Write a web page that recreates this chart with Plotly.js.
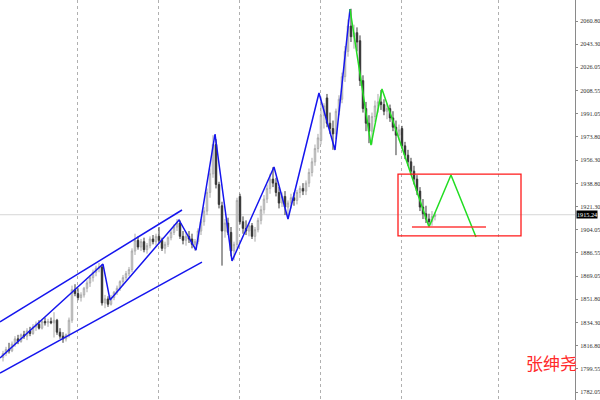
<!DOCTYPE html>
<html><head><meta charset="utf-8">
<script src="https://cdn.plot.ly/plotly-3.0.1.min.js"></script>
<style>html,body{margin:0;padding:0;background:#fff}#c{width:600px;height:400px}</style>
</head><body><div id="c"></div>
<script>
const barIdx = [];
for (let i = 0; i < 145; i++) barIdx.push(i);
const open = [1808,1811,1814,1813,1818,1822,1820,1825,1824,1828,1826,1831,1833,1830,1835,1834,1835,1834,1836,1827,1824,1822,1825,1836,1859,1856,1853,1855,1860,1864,
1868,1872,1875,1876,1849,1852,1848,1853,1857,1860,1865,1868,1871,1874,1888,1896,1891,1895,1889,1892,1897,1895,1899,1896,1890,1893,1898,1902,1906,1909,
1899,1896,1899,1897,1893,1895,1903,1910,1918,1932,1946,1968,1938,1922,1903,1909,1902,1888,1893,1929,1910,1905,1903,1907,1899,1904,1911,1919,1927,1935,
1942,1939,1932,1924,1929,1921,1924,1928,1926,1932,1935,1933,1939,1947,1955,1965,1971,1990,2003,1984,1980,1976,1993,2002,2019,2038,2057,2049,2052,2046,
2016,1995,1984,1978,1989,1997,2000,1998,1993,1995,1988,1981,1975,1980,1967,1960,1955,1948,1942,1933,1921,1916,1912,1910,1914];
const high = [1813,1816,1819,1820,1824,1825,1826,1828,1830,1831,1833,1835,1836,1837,1838,1837,1838,1842,1837,1830,1827,1826,1838,1862,1863,1860,1857,1861,1866,1870,
1874,1877,1879,1878,1855,1854,1855,1858,1862,1866,1870,1873,1876,1890,1901,1899,1897,1898,1894,1899,1900,1901,1906,1898,1895,1899,1904,1908,1912,1911,
1903,1902,1903,1901,1897,1905,1912,1921,1935,1950,1975,1972,1940,1925,1912,1913,1906,1895,1928,1931,1914,1911,1909,1909,1906,1913,1922,1930,1938,1946,
1951,1943,1936,1932,1933,1926,1931,1932,1934,1937,1939,1941,1950,1958,1968,1976,2004,1999,2006,1992,1986,1995,2005,2022,2042,2062,2070,2058,2056,2050,
2020,2000,1990,1992,2001,2006,2009,2002,1999,1998,1993,1986,1983,1982,1970,1964,1958,1952,1945,1936,1927,1922,1916,1918,1917];
const low = [1805,1809,1811,1812,1816,1818,1819,1822,1821,1824,1825,1828,1829,1829,1832,1831,1833,1823,1825,1822,1819,1820,1823,1834,1854,1851,1850,1853,1857,1861,
1865,1869,1872,1847,1845,1846,1847,1851,1855,1858,1862,1866,1869,1872,1885,1889,1888,1887,1886,1890,1893,1892,1894,1888,1886,1891,1896,1900,1903,1897,
1893,1892,1894,1890,1888,1893,1900,1907,1915,1928,1943,1935,1920,1877,1898,1900,1884,1881,1890,1908,1901,1900,1899,1897,1895,1902,1908,1916,1924,1931,
1936,1929,1920,1921,1915,1912,1920,1922,1923,1928,1930,1930,1936,1944,1952,1962,1968,1980,1981,1976,1964,1972,1990,1999,2015,2034,2045,2040,2038,2012,
1992,1978,1969,1968,1985,1992,1994,1990,1987,1985,1978,1960,1971,1965,1957,1952,1945,1938,1930,1918,1912,1909,1906,1907,1911];
const close = [1811,1814,1813,1818,1822,1820,1825,1824,1828,1826,1831,1833,1830,1835,1834,1835,1834,1836,1827,1824,1822,1825,1836,1859,1856,1853,1855,1860,1864,1868,
1872,1875,1876,1849,1852,1848,1853,1857,1860,1865,1868,1871,1874,1888,1896,1891,1895,1889,1892,1897,1895,1899,1896,1890,1893,1898,1902,1906,1909,1899,
1896,1899,1897,1893,1895,1903,1910,1918,1932,1946,1968,1938,1923,1903,1909,1902,1888,1893,1926,1910,1905,1903,1907,1899,1904,1911,1919,1927,1935,1942,
1939,1932,1924,1929,1921,1924,1928,1926,1932,1935,1933,1939,1947,1955,1965,1973,1990,1997,1984,1980,1976,1993,2002,2019,2038,2057,2049,2052,2045,2016,
1995,1984,1978,1989,1997,2000,1998,1993,1995,1988,1981,1975,1979,1967,1960,1955,1948,1942,1933,1921,1916,1912,1910,1914,1915.24];

const tickPrices = [2060.80,2043.30,2026.05,2008.55,1991.05,1973.80,1956.30,1938.80,1921.30,1904.05,1886.55,1869.05,1851.80,1834.30,1816.80,1799.55,1782.05];
const tickLabels = ["2060.80","2043.30","2026.05","2008.55","1991.05","1973.80","1956.30","1938.80","1921.30","1904.05","1886.55","1869.05","1851.80","1834.30","1816.80","1799.55","1782.05"];
const bidPrice = 1915.24;
const bidLabel = "1915.24";
const gridIdx = [24.67,51.67,78.67,106,133,165.33];

const blueZigX = [-1,33.33,35.67,58.67,64.33,70.67,76.33,90.33,95,105.33,110.67,115.67];
const blueZigY = [1807.6,1878.2,1851.2,1911.3,1888.7,1975.9,1880.5,1951.1,1912.0,2006.7,1963.9,2069.8];
const greenZigX = [115.67,122.67,126.33,142,149.33,157.67];
const greenZigY = [2069.8,1967.6,2009.7,1906.0,1945.1,1898.5];
const upperChX = [-1,59.67], upperChY = [1834.7,1918.8];
const lowerChX = [-1,66.33], lowerChY = [1796.3,1879.7];
const boxX = [131.67,172.67], boxY = [1899.3,1945.8];
const supportX = [136.33,161], supportY = 1906.0;
const authorText = "张绅尧";

const traces = [
  {type:'candlestick', x:barIdx, open:open, high:high, low:low, close:close,
   increasing:{line:{color:'#a8a8a8',width:1},fillcolor:'#ffffff'},
   decreasing:{line:{color:'#3a3a3a',width:1},fillcolor:'#000000'},
   whiskerwidth:0, hoverinfo:'skip'},
  {type:'scatter',mode:'lines',x:upperChX,y:upperChY,line:{color:'#1515ee',width:1.5}},
  {type:'scatter',mode:'lines',x:lowerChX,y:lowerChY,line:{color:'#1515ee',width:1.5}},
  {type:'scatter',mode:'lines',x:blueZigX,y:blueZigY,line:{color:'#1515ee',width:1.5}},
  {type:'scatter',mode:'lines',x:greenZigX,y:greenZigY,line:{color:'#22dd22',width:1.5}}
];

const layout = {
  width:600, height:400,
  margin:{l:0,r:25,t:0,b:0},
  paper_bgcolor:'#ffffff', plot_bgcolor:'#ffffff',
  showlegend:false, hovermode:false,
  xaxis:{range:[-1,190.67], rangeslider:{visible:false}, showticklabels:false, ticks:'',
         tickvals:gridIdx, showgrid:true, gridcolor:'#b0b0b0', griddash:'dot', gridwidth:1,
         zeroline:false, showline:false, fixedrange:true},
  yaxis:{range:[1776.04,2076.58], side:'right', tickvals:tickPrices, ticktext:tickLabels,
         showgrid:false, zeroline:false, showline:true, linecolor:'#8a8a8a', linewidth:1,
         ticks:'outside', ticklen:2, tickcolor:'#8a8a8a', ticklabelstandoff:1,
         tickfont:{family:'Liberation Serif, DejaVu Serif, serif', size:6.2, color:'#333333'},
         fixedrange:true},
  shapes:[
    {type:'line', xref:'paper', x0:0, x1:1, yref:'y', y0:bidPrice, y1:bidPrice, line:{color:'#d6d6d6',width:1}, layer:'below'},
    {type:'rect', xref:'x', yref:'y', x0:boxX[0], x1:boxX[1], y0:boxY[0], y1:boxY[1], line:{color:'#ff1a1a',width:1.3}},
    {type:'line', xref:'x', yref:'y', x0:supportX[0], x1:supportX[1], y0:supportY, y1:supportY, line:{color:'rgba(255,60,60,0.75)',width:2}}
  ],
  annotations:[
    {xref:'paper', x:1, xanchor:'left', yref:'y', y:bidPrice, text:bidLabel, showarrow:false,
     bgcolor:'#000000', font:{family:'Liberation Serif, serif', size:6.2, color:'#ffffff'}, borderpad:0, xshift:1},
    {xref:'x', x:182.67, yref:'y', y:1803.9, text:authorText, showarrow:false,
     font:{family:'Noto Sans CJK SC', size:17, color:'#ff2a2a'}}
  ]
};
Plotly.newPlot('c', traces, layout, {displayModeBar:false, staticPlot:true});
</script></body></html>
